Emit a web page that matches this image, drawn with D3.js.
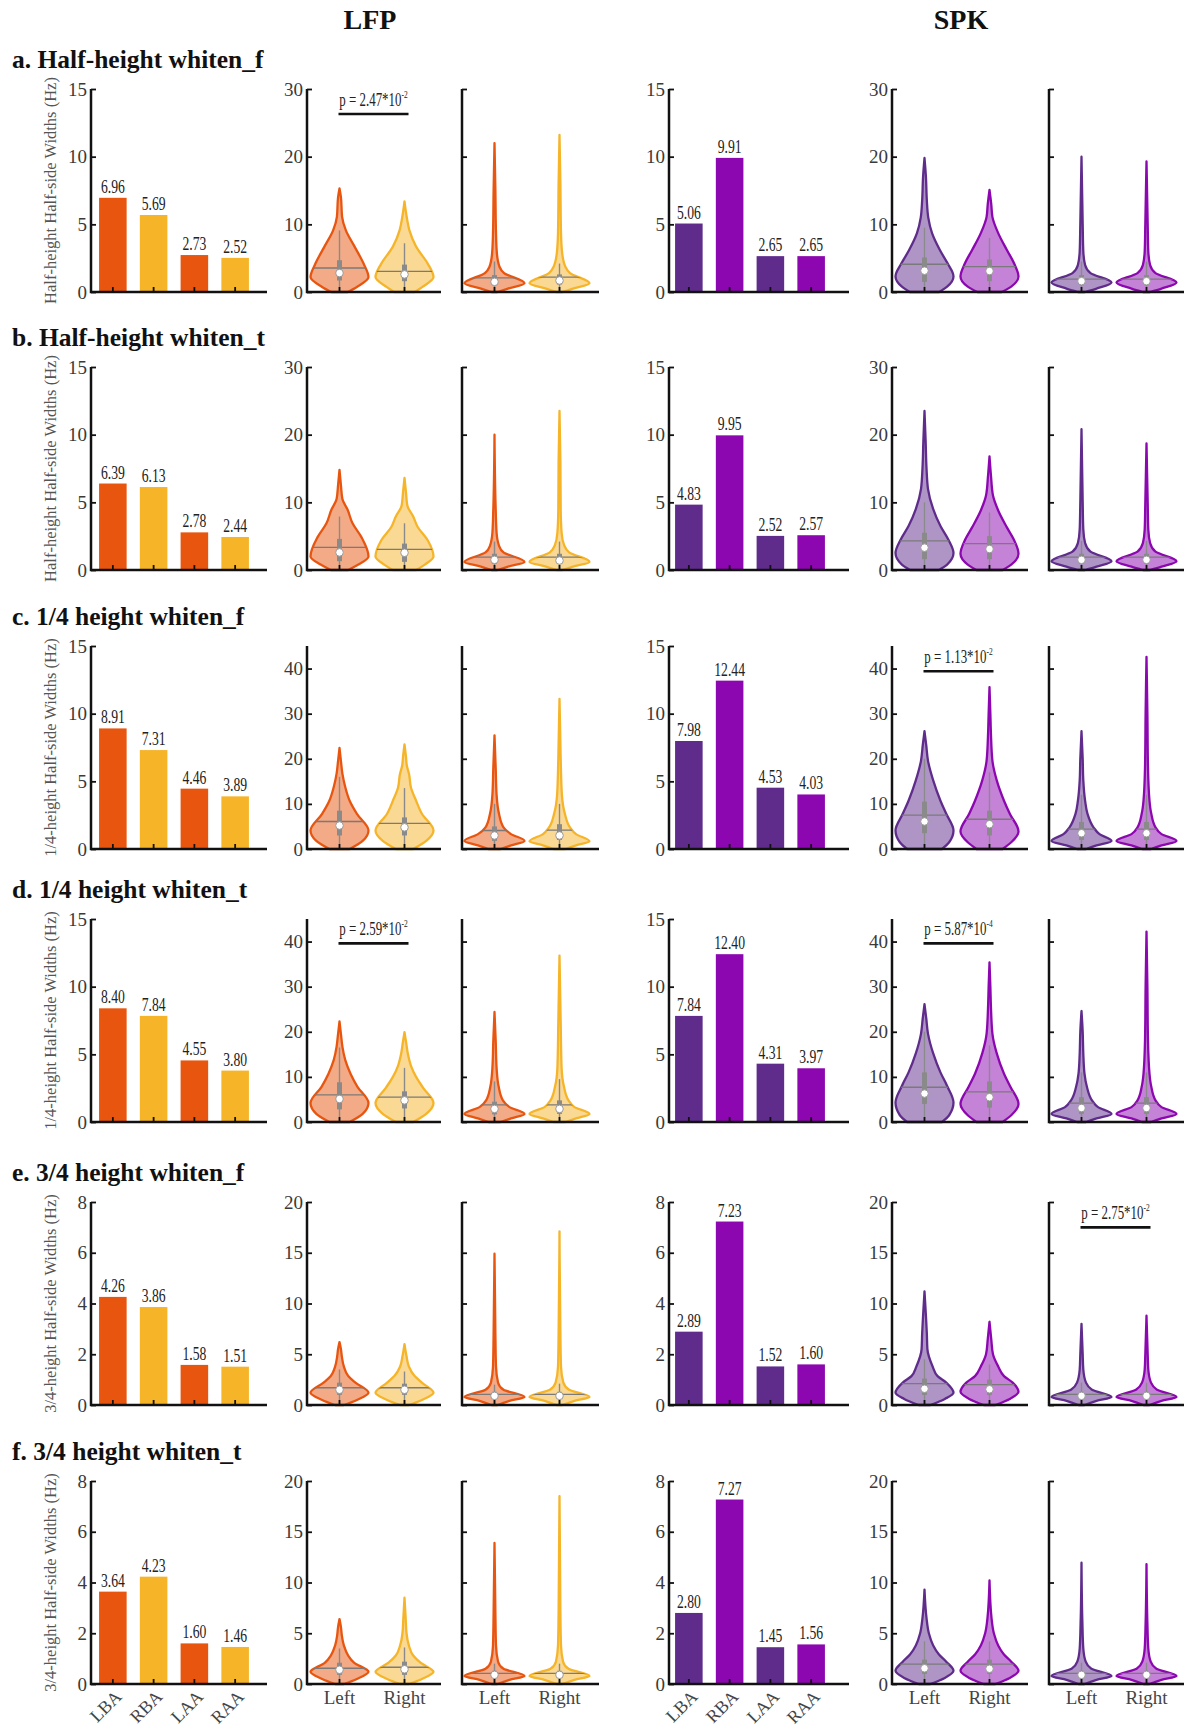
<!DOCTYPE html>
<html>
<head>
<meta charset="utf-8">
<script src="https://cdn.jsdelivr.net/npm/d3@7"></script>
<style>
body { margin: 0; background: #fff; }
text { font-family: "Liberation Serif", "Times New Roman", serif; }
</style>
</head>
<body>
<div id="chart"></div>
<script>
// ---------- data ----------
var CATS = ["LBA", "RBA", "LAA", "RAA"];
var SIDES = ["Left", "Right"];
var TITLES = ["a. Half-height whiten_f", "b. Half-height whiten_t", "c. 1/4 height whiten_f",
              "d. 1/4 height whiten_t", "e. 3/4 height whiten_f", "f. 3/4 height whiten_t"];
var YLABELS = ["Half-height Half-side Widths (Hz)", "Half-height Half-side Widths (Hz)",
               "1/4-height Half-side Widths (Hz)", "1/4-height Half-side Widths (Hz)",
               "3/4-height Half-side Widths (Hz)", "3/4-height Half-side Widths (Hz)"];
var BAR_MAX = [15, 15, 15, 15, 8, 8];
var BAR_TICKS = [[0,5,10,15],[0,5,10,15],[0,5,10,15],[0,5,10,15],[0,2,4,6,8],[0,2,4,6,8]];
var VIO_MAX = [30, 30, 45, 45, 20, 20];
var VIO_TICKS = [[0,10,20,30],[0,10,20,30],[0,10,20,30,40],[0,10,20,30,40],[0,5,10,15,20],[0,5,10,15,20]];

var lfpBars = [[6.96,5.69,2.73,2.52],[6.39,6.13,2.78,2.44],[8.91,7.31,4.46,3.89],
               [8.40,7.84,4.55,3.80],[4.26,3.86,1.58,1.51],[3.64,4.23,1.60,1.46]];
var spkBars = [[5.06,9.91,2.65,2.65],[4.83,9.95,2.52,2.57],[7.98,12.44,4.53,4.03],
               [7.84,12.40,4.31,3.97],[2.89,7.23,1.52,1.60],[2.80,7.27,1.45,1.56]];

// violin profiles: p = [value, relative half-width], b = [low, q1, median, q3, high], m = mean
var lfpNear = [
 [{p:[[0,.28],[.75,.6],[2.2,1],[4.2,.83],[6.7,.52],[9.1,.22],[11.1,.09],[14,.05],[15.3,0]], b:[0,1.7,2.8,4.7,9.1], m:3.55},
  {p:[[0,.35],[.75,.62],[2.2,1],[4.2,.8],[6.7,.4],[9.1,.17],[11,.08],[13.4,0]], b:[0,1.6,2.6,4.05,7.2], m:3.05}],
 [{p:[[0,.3],[.8,.65],[2,1],[4.9,.75],[6.9,.45],[8.9,.28],[10.5,.1],[12.5,.05],[14.8,0]], b:[0,1.3,2.6,4.6,7.9], m:3.35},
  {p:[[0,.4],[.8,.7],[2,1],[4.4,.8],[6.4,.45],[7.9,.3],[9.5,.1],[11.5,.05],[13.6,0]], b:[0,1.2,2.55,3.9,6.9], m:3.05}],
 [{p:[[0,.35],[1.8,.8],[4.1,1],[7.8,.6],[10.7,.35],[13.7,.2],[16.7,.1],[19.5,.05],[22.4,0]], b:[0,3,5.2,8.5,16], m:6.1},
  {p:[[0,.3],[1.8,.75],[4.1,1],[7.8,.6],[10.7,.4],[13.7,.22],[16.5,.16],[18.5,.08],[20.5,.05],[23.2,0]], b:[0,3,4.8,7,13.5], m:5.7}],
 [{p:[[0,.35],[1.8,.8],[4.2,1],[7.8,.62],[10.7,.38],[13.7,.2],[16.7,.1],[19.5,.05],[22.3,0]], b:[0,2.8,5.1,8.8,16.5], m:6.0},
  {p:[[0,.3],[1.8,.75],[4.2,1],[7.5,.65],[10,.4],[12.5,.22],[15,.12],[17.5,.06],[19.9,0]], b:[0,3,4.8,6.8,12], m:5.5}],
 [{p:[[0,.15],[.5,.6],[1.2,1],[2.2,.55],[2.85,.3],[3.8,.15],[4.8,.08],[5.5,.05],[6.2,0]], b:[0,1,1.5,2.2,3.5], m:1.7},
  {p:[[0,.15],[.5,.6],[1.2,1],[2.2,.6],[2.85,.35],[3.8,.15],[4.8,.07],[6.0,0]], b:[0,1,1.5,2.1,3.3], m:1.7}],
 [{p:[[0,.15],[.5,.6],[1.2,1],[2.1,.5],[2.8,.3],[3.8,.15],[4.8,.08],[5.6,.05],[6.4,0]], b:[0,.9,1.4,2.1,3.5], m:1.55},
  {p:[[0,.15],[.5,.6],[1.2,1],[2.1,.55],[2.8,.3],[3.8,.15],[5,.07],[6.5,.04],[8.5,0]], b:[0,.9,1.45,2.2,3.6], m:1.65}]
];
var lfpFar = [
 [{p:[[0,.1],[.5,.45],[1.3,1],[2.8,.32],[3.7,.17],[5.7,.08],[8.7,.05],[15,.03],[22,0]], b:[0,1,1.5,2.5,4.5], m:2.1},
  {p:[[0,.1],[.5,.45],[1.3,1],[2.8,.35],[3.7,.2],[5.7,.09],[8.7,.05],[16,.03],[23.2,0]], b:[0,1.1,1.7,2.6,4.2], m:2.2}],
 [{p:[[0,.1],[.5,.45],[1.2,1],[2.6,.3],[3.6,.15],[5.5,.07],[9,.04],[20,0]], b:[0,.9,1.5,2.4,4.2], m:1.9},
  {p:[[0,.1],[.5,.45],[1.2,1],[2.6,.32],[3.6,.16],[5.5,.07],[9,.04],[16,.03],[23.5,0]], b:[0,.9,1.4,2.4,4.2], m:1.9}],
 [{p:[[0,.2],[.8,.55],[1.8,1],[3.3,.55],[4.8,.3],[7.8,.15],[12,.07],[18,.04],[25.2,0]], b:[0,1.8,3,5,10], m:4.1},
  {p:[[0,.2],[.8,.55],[1.7,1],[3.3,.55],[4.8,.35],[7.8,.18],[12,.08],[20,.04],[33.3,0]], b:[0,2,3,5.5,10], m:4.2}],
 [{p:[[0,.2],[.8,.55],[1.8,1],[3.3,.5],[4.8,.28],[7.8,.14],[12,.07],[18,.04],[24.4,0]], b:[0,1.7,2.9,4.5,9], m:3.8},
  {p:[[0,.2],[.8,.55],[1.8,1],[3.3,.5],[4.8,.3],[7.8,.15],[12,.07],[22,.04],[36.9,0]], b:[0,1.8,2.9,4.8,9.5], m:3.8}],
 [{p:[[0,.1],[.4,.5],[.8,1],[1.5,.3],[2.2,.12],[3.8,.05],[7,.03],[14.9,0]], b:[0,.6,.9,1.3,2], m:1.05},
  {p:[[0,.1],[.4,.5],[.8,1],[1.5,.32],[2.2,.13],[3.8,.05],[7,.03],[17.1,0]], b:[0,.6,.9,1.3,2.1], m:1.05}],
 [{p:[[0,.1],[.4,.5],[.8,1],[1.5,.3],[2.2,.12],[3.8,.05],[7,.03],[13.9,0]], b:[0,.6,.9,1.3,2], m:1.05},
  {p:[[0,.1],[.4,.5],[.8,1],[1.5,.3],[2.2,.12],[3.8,.05],[7,.03],[18.5,0]], b:[0,.6,.9,1.3,2], m:1.05}]
];
var spkNear = [
 [{p:[[0,.5],[.8,.78],[2.3,1],[4.2,.8],[6.2,.53],[8.7,.26],[11,.13],[13.6,.08],[17,.05],[19.8,0]], b:[0,1.5,3.15,5.1,9.5], m:4.1},
  {p:[[0,.42],[.8,.75],[2.3,1],[4.2,.85],[6.2,.6],[8.7,.3],[11.1,.1],[13,.06],[15.1,0]], b:[0,1.6,3.1,4.8,8], m:3.75}],
 [{p:[[0,.5],[.8,.78],[2.5,1],[4.5,.82],[6.5,.55],[9,.3],[12,.12],[15,.07],[19,.04],[23.5,0]], b:[0,1.6,3.3,5.5,10], m:4.3},
  {p:[[0,.45],[.8,.75],[2.4,1],[4.4,.85],[6.3,.6],[8.8,.3],[11,.12],[14,.05],[16.8,0]], b:[0,1.6,3.1,5,8.5], m:3.9}],
 [{p:[[0,.6],[1.5,.85],[4.1,1],[7.8,.75],[10.7,.55],[15.2,.3],[19.6,.12],[23,.06],[26.1,0]], b:[0,3.5,6.1,10.5,20], m:7.5},
  {p:[[0,.45],[1.5,.75],[3.9,1],[7.8,.7],[10.7,.5],[15.2,.25],[19.6,.1],[25.5,.05],[30,.03],[35.9,0]], b:[0,3,5.5,8.5,17], m:6.6}],
 [{p:[[0,.6],[1.5,.85],[4.3,1],[8,.78],[11,.55],[15.2,.3],[19.6,.12],[23,.06],[26.1,0]], b:[0,4,6.3,11,20], m:7.7},
  {p:[[0,.45],[1.5,.75],[4,1],[7.8,.72],[10.7,.5],[15.2,.25],[19.6,.1],[25.5,.05],[30,.03],[35.4,0]], b:[0,3.2,5.5,9,17], m:6.7}],
 [{p:[[0,.2],[.6,.7],[1.2,1],[2.2,.75],[2.85,.45],[3.8,.28],[5.5,.1],[7.1,.08],[8.75,.05],[11.2,0]], b:[0,1,1.6,2.6,4.5], m:2.1},
  {p:[[0,.2],[.6,.7],[1.3,1],[2.2,.8],[2.85,.5],[3.8,.3],[5,.12],[6.5,.06],[8.2,0]], b:[0,1,1.55,2.5,4], m:2.0}],
 [{p:[[0,.2],[.6,.7],[1.3,1],[2.2,.75],[2.9,.5],[3.8,.3],[5,.15],[6.5,.07],[9.3,0]], b:[0,1,1.55,2.4,4.2], m:1.95},
  {p:[[0,.2],[.6,.7],[1.3,1],[2.2,.75],[2.9,.5],[3.8,.3],[5,.15],[6.5,.07],[10.2,0]], b:[0,1,1.5,2.4,4.2], m:1.95}]
];
var spkFar = [
 [{p:[[0,.12],[.5,.5],[1.4,1],[2.8,.3],[4,.12],[6,.06],[10,.04],[20,0]], b:[0,1,1.6,2.5,4.5], m:1.9},
  {p:[[0,.12],[.5,.5],[1.4,1],[2.8,.3],[4,.12],[6,.06],[10,.04],[19.3,0]], b:[0,1,1.6,2.5,4.5], m:1.9}],
 [{p:[[0,.12],[.5,.5],[1.3,1],[2.7,.3],[4,.12],[6,.06],[10,.04],[20.8,0]], b:[0,.9,1.5,2.4,4.3], m:1.9},
  {p:[[0,.12],[.5,.5],[1.3,1],[2.7,.3],[4,.12],[6,.06],[10,.04],[18.7,0]], b:[0,.9,1.5,2.4,4.3], m:1.9}],
 [{p:[[0,.15],[.8,.5],[1.8,1],[3.3,.6],[4.8,.4],[7.8,.2],[10.7,.12],[15.2,.06],[20,.04],[26.1,0]], b:[0,2,3.5,6,12], m:4.4},
  {p:[[0,.15],[.8,.5],[1.8,1],[3.3,.5],[4.8,.3],[7.8,.16],[10.7,.1],[18,.05],[30,.03],[42.6,0]], b:[0,2,3.5,6,12], m:4.4}],
 [{p:[[0,.15],[.8,.5],[1.8,1],[3.3,.55],[4.8,.35],[7.8,.18],[10.7,.1],[15.2,.06],[20,.04],[24.6,0]], b:[0,1.8,3.1,5.5,11], m:4.2},
  {p:[[0,.15],[.8,.5],[1.8,1],[3.3,.5],[4.8,.3],[7.8,.16],[10.7,.1],[18,.05],[30,.03],[42.2,0]], b:[0,1.8,3.1,5.5,11], m:4.2}],
 [{p:[[0,.1],[.4,.5],[.8,1],[1.5,.35],[2.2,.15],[3.5,.06],[5,.04],[8,0]], b:[0,.6,.9,1.3,2.2], m:1.05},
  {p:[[0,.1],[.4,.5],[.8,1],[1.5,.35],[2.2,.15],[3.5,.06],[5,.04],[8.8,0]], b:[0,.6,.9,1.3,2.2], m:1.05}],
 [{p:[[0,.1],[.4,.5],[.8,1],[1.5,.33],[2.2,.14],[3.5,.06],[6,.03],[11.95,0]], b:[0,.6,.9,1.3,2.1], m:1.05},
  {p:[[0,.1],[.4,.5],[.8,1],[1.5,.33],[2.2,.14],[3.5,.06],[6,.03],[11.8,0]], b:[0,.6,.9,1.3,2.1], m:1.05}]
];

// significance marks: row, modality, violin panel (0 near / 1 far), bar height, text, exponent
var PVALS = [
  {row:0, mod:"lfp", k:0, y:26.3, t:"p = 2.47*10", e:"-2"},
  {row:2, mod:"spk", k:0, y:39.4, t:"p = 1.13*10", e:"-2"},
  {row:3, mod:"lfp", k:0, y:39.6, t:"p = 2.59*10", e:"-2"},
  {row:3, mod:"spk", k:0, y:39.6, t:"p = 5.87*10", e:"-4"},
  {row:4, mod:"spk", k:1, y:17.5, t:"p = 2.75*10", e:"-2"}
];

// ---------- layout ----------
var ROW_TOP = [89, 367, 646, 919, 1202, 1481], PH = 203;
var COLS = {
  lfp: {name:"LFP", head:370, axis:[91,267], band:[95,253], vio:[[307,441],[462,599]],
        colors:["#E8550F","#F6B429"], vios:[lfpNear, lfpFar], bars:lfpBars},
  spk: {name:"SPK", head:961, axis:[669,849], band:[671,829], vio:[[892,1028],[1049,1184]],
        colors:["#5F2C8C","#8C07AF"], vios:[spkNear, spkFar], bars:spkBars}
};
var HW = [29, 30];   // violin max half widths (near, far)

var svg = d3.select("#chart").append("svg")
    .attr("width", 1186).attr("height", 1730)
    .style("background", "#fff");

function frame(g, x0, x1, y, ticks, showLabels) {
  var ax = g.append("g")
      .attr("transform", "translate(" + x0 + ",0)")
      .call(d3.axisLeft(y).tickValues(ticks).tickSize(-5).tickPadding(4)
            .tickFormat(showLabels ? d3.format("d") : ""));
  ax.attr("font-family", "Liberation Serif, serif").attr("font-size", 19);
  ax.select(".domain").remove();
  ax.selectAll(".tick line").attr("stroke", "#111").attr("stroke-width", 1.8);
  ax.selectAll(".tick text").attr("fill", "#3a3a3a");
  g.append("path")
    .attr("d", "M" + x0 + "," + y.range()[1] + "V" + y.range()[0] + "H" + x1)
    .attr("fill", "none").attr("stroke", "#111").attr("stroke-width", 2.5);
}

function squeeze(sel, x, y, sx) {
  sel.attr("transform", "translate(" + x + "," + y + ") scale(" + sx + ",1)");
}

var defs = svg.append("defs");

/////////////// HEADERS ///////////////
Object.keys(COLS).forEach(function(k) {
  svg.append("text").attr("x", COLS[k].head).attr("y", 29)
    .attr("text-anchor", "middle").attr("font-size", 28).attr("font-weight", "bold")
    .attr("fill", "#111").text(COLS[k].name);
});

/////////////// ROWS ///////////////
ROW_TOP.forEach(function(top, r) {
  var bot = top + PH;

  svg.append("text").attr("x", 12).attr("y", top - 21)
    .attr("font-size", 25.5).attr("font-weight", "bold").attr("fill", "#111")
    .text(TITLES[r]);

  svg.append("text")
    .attr("transform", "translate(56," + (top + PH / 2) + ") rotate(-90)")
    .attr("text-anchor", "middle").attr("font-size", 16.5).attr("fill", "#555")
    .text(YLABELS[r]);

  ["lfp", "spk"].forEach(function(mod) {
    var C = COLS[mod];
    var g = svg.append("g").attr("class", mod + "-row" + r);

    // bars
    var yb = d3.scaleLinear().domain([0, BAR_MAX[r]]).range([bot, top]);
    var xb = d3.scaleBand().domain(CATS).range(C.band).paddingInner(0.324).paddingOuter(0.1);
    var vals = C.bars[r];

    g.selectAll("rect.bar").data(vals).enter().append("rect")
      .attr("class", "bar")
      .attr("x", function(d, i) { return xb(CATS[i]); })
      .attr("y", function(d) { return yb(d); })
      .attr("width", xb.bandwidth())
      .attr("height", function(d) { return bot - yb(d); })
      .attr("fill", function(d, i) { return C.colors[i % 2]; });

    g.selectAll("text.val").data(vals).enter().append("text")
      .attr("class", "val")
      .attr("text-anchor", "middle").attr("font-size", 19).attr("fill", "#222")
      .each(function(d, i) {
        squeeze(d3.select(this), xb(CATS[i]) + xb.bandwidth() / 2, yb(d) - 5, 0.72);
      })
      .text(function(d) { return d.toFixed(2); });

    frame(g, C.axis[0], C.axis[1], yb, BAR_TICKS[r], true);

    g.selectAll("line.xt").data(CATS).enter().append("line")
      .attr("x1", function(c) { return xb(c) + xb.bandwidth() / 2; })
      .attr("x2", function(c) { return xb(c) + xb.bandwidth() / 2; })
      .attr("y1", bot).attr("y2", bot - 5)
      .attr("stroke", "#111").attr("stroke-width", 1.8);

    if (r === ROW_TOP.length - 1) {
      g.selectAll("text.cat").data(CATS).enter().append("text")
        .attr("class", "cat")
        .attr("transform", function(c) {
          return "translate(" + (xb(c) + xb.bandwidth() / 2 + 1) + "," + (bot + 5) + ") rotate(-45)";
        })
        .attr("dy", "0.7em").attr("text-anchor", "end")
        .attr("font-size", 18).attr("fill", "#444")
        .text(function(c) { return c; });
    }

    // violins
    C.vio.forEach(function(rng, k) {
      var yv = d3.scaleLinear().domain([0, VIO_MAX[r]]).range([bot, top]);
      var xv = d3.scalePoint().domain(SIDES).range([rng[0], rng[0] + 130]).padding(0.5);
      var hw = HW[k];
      var set = C.vios[k][r];

      set.forEach(function(v, i) {
        var cx = xv(SIDES[i]);
        var col = C.colors[i];
        var area = d3.area().curve(d3.curveMonotoneY)
          .y(function(d) { return yv(d[0]); })
          .x0(function(d) { return cx - d[1] * hw; })
          .x1(function(d) { return cx + d[1] * hw; });
        var dstr = area(v.p);
        var cid = "clip-" + mod + "-" + k + "-" + r + "-" + i;

        defs.append("clipPath").attr("id", cid).append("path").attr("d", dstr);

        var vg = g.append("g").attr("class", "violin");
        vg.append("path").attr("d", dstr)
          .attr("fill", col).attr("fill-opacity", 0.5)
          .attr("stroke", col).attr("stroke-width", 2.3).attr("stroke-linejoin", "round");
        vg.append("line")
          .attr("clip-path", "url(#" + cid + ")")
          .attr("x1", cx - hw).attr("x2", cx + hw)
          .attr("y1", yv(v.m)).attr("y2", yv(v.m))
          .attr("stroke", "#7a7a7a").attr("stroke-width", 1.3);
        vg.append("line")
          .attr("x1", cx).attr("x2", cx)
          .attr("y1", yv(v.b[0])).attr("y2", yv(v.b[4]))
          .attr("stroke", "#8a8a8a").attr("stroke-width", 1.4);
        vg.append("line")
          .attr("x1", cx).attr("x2", cx)
          .attr("y1", yv(v.b[1])).attr("y2", yv(v.b[3]))
          .attr("stroke", "#8a8a8a").attr("stroke-width", 5);
        vg.append("circle")
          .attr("cx", cx).attr("cy", yv(v.b[2])).attr("r", 3.8)
          .attr("fill", "#fff").attr("stroke", "#999").attr("stroke-width", 1);
      });

      frame(g, rng[0], rng[1], yv, VIO_TICKS[r], k === 0);

      g.selectAll("line.vt" + k).data(SIDES).enter().append("line")
        .attr("x1", function(s) { return xv(s); }).attr("x2", function(s) { return xv(s); })
        .attr("y1", bot).attr("y2", bot - 5)
        .attr("stroke", "#111").attr("stroke-width", 1.8);

      PVALS.filter(function(p) { return p.row === r && p.mod === mod && p.k === k; })
        .forEach(function(p) {
          var xl = xv("Left") - 1, xr = xv("Right") + 4, yy = yv(p.y);
          g.append("line").attr("x1", xl).attr("x2", xr).attr("y1", yy).attr("y2", yy)
            .attr("stroke", "#111").attr("stroke-width", 2.6);
          var t = g.append("text").attr("text-anchor", "middle")
            .attr("font-size", 19).attr("fill", "#222");
          squeeze(t, (xl + xr) / 2, yy - 8, 0.68);
          t.append("tspan").text(p.t);
          t.append("tspan").attr("font-size", 11).attr("dy", -8).text(p.e);
        });

      if (r === ROW_TOP.length - 1) {
        g.selectAll("text.side" + k).data(SIDES).enter().append("text")
          .attr("x", function(s) { return xv(s); }).attr("y", bot + 20)
          .attr("text-anchor", "middle").attr("font-size", 19).attr("fill", "#444")
          .text(function(s) { return s; });
      }
    });
  });
});
</script>
</body>
</html>
